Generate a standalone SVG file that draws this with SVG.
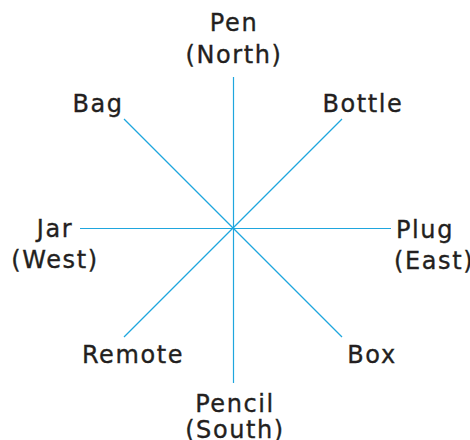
<svg xmlns="http://www.w3.org/2000/svg" width="470" height="440" viewBox="0 0 470 440">
<style>
.lbl{font-family:"DejaVu Sans","Noto Sans",sans-serif;font-size:24px;fill:#231f20;stroke:#231f20;stroke-width:0.35px;letter-spacing:1.6px}
.c{text-anchor:middle}
.s{text-anchor:start}
.ln{stroke:#1fa6de;stroke-width:1.2;fill:none}
</style>
<rect width="470" height="440" fill="#fff"/>
<g id="connectors">
<line class="ln" x1="233.5" y1="77" x2="233.5" y2="383"/>
<line class="ln" x1="80" y1="228.5" x2="391" y2="228.5"/>
<line class="ln" x1="124" y1="119" x2="342" y2="337"/>
<line class="ln" x1="342" y1="119" x2="124" y2="337"/>
</g>
<g id="pen"><text class="lbl c" x="234" y="31">Pen</text><text class="lbl c" x="234" y="63">(North)</text></g>
<g id="bag"><text class="lbl c" x="98" y="112">Bag</text></g>
<g id="bottle"><text class="lbl c" x="363" y="112">Bottle</text></g>
<g id="jar"><text class="lbl c" x="55" y="237">Jar</text><text class="lbl c" x="55" y="268">(West)</text></g>
<g id="plug"><text class="lbl s" x="396" y="238">Plug</text><text class="lbl s" x="394" y="269">(East)</text></g>
<g id="remote"><text class="lbl c" x="133" y="363">Remote</text></g>
<g id="box"><text class="lbl c" x="372" y="363">Box</text></g>
<g id="pencil"><text class="lbl c" x="235" y="412">Pencil</text><text class="lbl c" x="235" y="438">(South)</text></g>
</svg>
